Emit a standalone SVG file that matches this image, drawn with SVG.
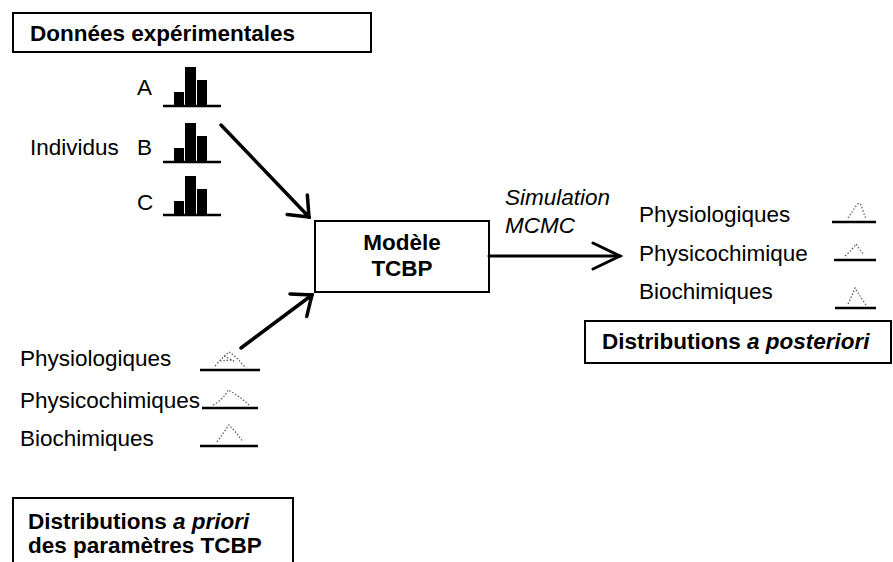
<svg xmlns="http://www.w3.org/2000/svg" width="893" height="562" viewBox="0 0 893 562">
<style>
text{font-family:"Liberation Sans",Arial,sans-serif;font-size:22.5px;fill:#000}
.b{font-weight:bold}
.i{font-style:italic}
.box{fill:#fff;stroke:#000;stroke-width:2}
.bar{fill:#000}
.base{stroke:#000;stroke-width:2.5}
.hump{fill:none;stroke:#555;stroke-width:1.2;stroke-dasharray:1.5 1.8}
.arr{fill:none;stroke:#000;stroke-width:3.5;stroke-linecap:round}
</style>
<defs>
<marker id="head" markerUnits="userSpaceOnUse" markerWidth="40" markerHeight="40" refX="0" refY="0" viewBox="-30 -20 40 40" orient="auto" overflow="visible">
<path d="M-17,-14 L0,0 L-17,14" fill="none" stroke="#000" stroke-width="3.5" stroke-linecap="round" stroke-linejoin="miter"/>
</marker>
<marker id="head2" markerUnits="userSpaceOnUse" markerWidth="40" markerHeight="40" refX="0" refY="0" viewBox="-30 -20 40 40" orient="auto" overflow="visible">
<path d="M-27,-13 L0,0 L-27,13" fill="none" stroke="#000" stroke-width="3" stroke-linecap="round"/>
</marker>
<g id="bars">
<rect class="bar" x="174" y="-14" width="10" height="14"/>
<rect class="bar" x="185" y="-39" width="11" height="39"/>
<rect class="bar" x="197" y="-26" width="10" height="26"/>
<line class="base" x1="163" y1="0" x2="221" y2="0"/>
</g>
</defs>

<g id="donnees">
<rect class="box" x="13" y="13" width="358" height="39"/>
<text class="b" x="30" y="41">Données expérimentales</text>
</g>

<g id="individus">
<text x="30" y="155">Individus</text>
<text x="137" y="95">A</text>
<use href="#bars" y="106"/>
<text x="137" y="155">B</text>
<use href="#bars" y="162"/>
<text x="137" y="210">C</text>
<use href="#bars" y="215"/>
</g>

<g id="modele">
<rect class="box" x="315" y="221" width="174" height="71"/>
<text class="b" x="402" y="250" text-anchor="middle">Modèle</text>
<text class="b" x="402" y="276" text-anchor="middle">TCBP</text>
</g>

<g id="simulation">
<text class="i" x="505" y="205">Simulation</text>
<text class="i" x="505" y="233">MCMC</text>
</g>

<g id="posteriori">
<text x="639" y="222">Physiologiques</text>
<text x="639" y="261">Physicochimique</text>
<text x="639" y="299">Biochimiques</text>
<line class="base" x1="832" y1="222" x2="876" y2="222"/>
<path class="hump" d="M848,218 Q852,212 856,206 Q860,200 862,208 Q864,214 866,219"/>
<line class="base" x1="834" y1="260" x2="876" y2="260"/>
<path class="hump" d="M845,256 Q852,250 856,244 Q860,250 864,255"/>
<line class="base" x1="835" y1="308" x2="876" y2="308"/>
<path class="hump" d="M848,304 Q852,296 855,288 Q860,296 866,305"/>
<rect class="box" x="585" y="321" width="306" height="42"/>
<text class="b" x="602" y="349">Distributions <tspan class="i">a posteriori</tspan></text>
</g>

<g id="apriori">
<text x="20" y="366">Physiologiques</text>
<text x="20" y="408">Physicochimiques</text>
<text x="20" y="446">Biochimiques</text>
<line class="base" x1="200" y1="370" x2="260" y2="370"/>
<path class="hump" d="M215,366 Q222,358 229,352 Q236,356 242,364 L246,368"/>
<path class="hump" d="M220,361 L232,360 M224,356 L236,362"/>
<line class="base" x1="202" y1="408" x2="258" y2="408"/>
<path class="hump" d="M213,405 Q225,398 228,390 Q240,396 250,406"/>
<line class="base" x1="200" y1="446" x2="258" y2="446"/>
<path class="hump" d="M217,442 Q224,432 229,425 Q236,432 243,442"/>
</g>

<g id="prior-box">
<rect class="box" x="13" y="498" width="280" height="80"/>
<text class="b" x="28" y="529">Distributions <tspan class="i">a priori</tspan></text>
<text class="b" x="28" y="553">des paramètres TCBP</text>
</g>

<g id="connectors">
<path class="arr" d="M221,125 L309,217" marker-end="url(#head)"/>
<path class="arr" d="M241,348 L312,295" marker-end="url(#head)"/>
<path class="arr" style="stroke-width:3" d="M489,256 L620,256" marker-end="url(#head2)"/>
</g>
</svg>
